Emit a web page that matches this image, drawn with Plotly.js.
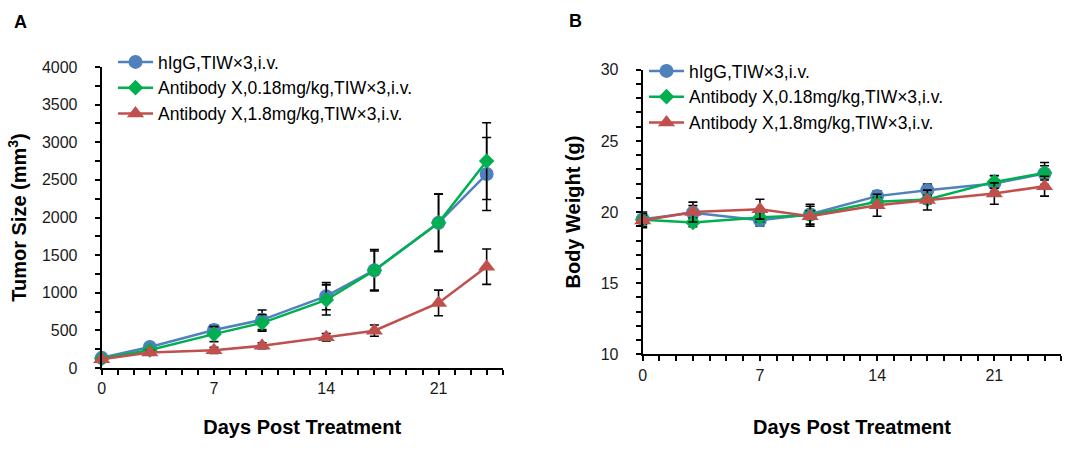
<!DOCTYPE html>
<html>
<head>
<meta charset="utf-8">
<script src="https://cdn.plot.ly/plotly-3.0.1.min.js"></script>
<style>html,body{margin:0;padding:0;background:#fff;}#chart{width:1084px;height:451px;}</style>
</head>
<body>
<div id="chart"></div>
<script>
// ---- data ----
const days = [0, 3, 7, 10, 14, 17, 21, 24];
const seriesNames = ["hIgG,TIW\u00d73,i.v.", "Antibody X,0.18mg/kg,TIW\u00d73,i.v.", "Antibody X,1.8mg/kg,TIW\u00d73,i.v."];

const tumorHIgG = [135, 280, 505, 640, 955, 1300, 1930, 2578];
const tumorHIgGErr = [20, 40, 65, 130, 180, 275, 380, 485];
const tumorLow = [125, 240, 450, 600, 905, 1295, 1930, 2750];
const tumorLowErr = [20, 30, 100, 110, 200, 260, 380, 510];
const tumorHigh = [115, 205, 235, 295, 408, 496, 865, 1346];
const tumorHighErr = [20, 30, 40, 40, 50, 75, 170, 235];

const weightHIgG = [19.5, 19.95, 19.43, 19.85, 21.12, 21.54, 22.0, 22.71];
const weightHIgGErr = [0.5, 0.5, 0.4, 0.7, 0.37, 0.42, 0.55, 0.77];
const weightLow = [19.45, 19.27, 19.62, 19.78, 20.72, 20.88, 22.12, 22.75];
const weightLowErr = [0.3, 0.3, 0.3, 0.3, 0.3, 0.3, 0.45, 0.5];
const weightHigh = [19.4, 20.0, 20.2, 19.71, 20.48, 20.84, 21.3, 21.82];
const weightHighErr = [0.5, 0.7, 0.7, 0.7, 0.77, 0.7, 0.75, 0.7];

const xTickVals = [0, 7, 14, 21];
// ---- styles ----
const colors = ["#4F81BD", "#00B050", "#C0504D"];
const symbols = ["circle", "diamond", "triangle-up"];
const sizes = [14, 12, 15];
const FONT = "Arial, 'Liberation Sans', Helvetica, sans-serif";

function mk(y, err, i, xa, ya, leg) {
  return {
    type: "scatter", mode: "lines+markers",
    x: days, y: y, name: seriesNames[i],
    xaxis: xa, yaxis: ya, legend: leg, legendgroup: leg + i,
    cliponaxis: false,
    line: {color: colors[i], width: 2.5},
    marker: {color: colors[i], symbol: symbols[i], size: sizes[i]},
    error_y: {type: "data", array: err, visible: true, color: "#000", thickness: 1.6, width: 4.5}
  };
}

const traces = [
  mk(tumorHIgG, tumorHIgGErr, 0, "x", "y", "legend"),
  mk(tumorLow, tumorLowErr, 1, "x", "y", "legend"),
  mk(tumorHigh, tumorHighErr, 2, "x", "y", "legend"),
  mk(weightHIgG, weightHIgGErr, 0, "x2", "y2", "legend2"),
  mk(weightLow, weightLowErr, 1, "x2", "y2", "legend2"),
  mk(weightHigh, weightHighErr, 2, "x2", "y2", "legend2")
];

const W = 1084, H = 451;
const px = v => v / W, py = v => (H - v) / H;

function xax(domain, standoff) {
  return {
    domain: domain, range: [0, 25],
    tickmode: "array", tickvals: xTickVals, ticktext: xTickVals.map(String),
    ticks: "outside", ticklen: 5, tickwidth: 2, tickcolor: "#000",
    minor: {dtick: 1, tick0: 0, ticks: "outside", ticklen: 5, tickwidth: 2, tickcolor: "#000"},
    showline: true, linecolor: "#000", linewidth: 2,
    showgrid: false, zeroline: false, fixedrange: true,
    ticklabelstandoff: 0,
    tickfont: {family: FONT, size: 16, color: "#1a1a1a"},
    title: {text: "Days Post Treatment", standoff: standoff, font: {family: FONT, size: 20, weight: "bold", color: "#000"}}
  };
}
function yax(domain, range, dtick, minor, title, standoff) {
  return {
    domain: domain, range: range, dtick: dtick, tick0: range[0],
    ticks: "outside", ticklen: 5, tickwidth: 2, tickcolor: "#000",
    minor: {dtick: minor, ticks: "outside", ticklen: 5, tickwidth: 2, tickcolor: "#000"},
    showline: true, linecolor: "#000", linewidth: 2,
    showgrid: false, zeroline: false, fixedrange: true,
    ticklabelstandoff: 14,
    tickfont: {family: FONT, size: 16, color: "#1a1a1a"},
    title: {text: title, standoff: standoff, font: {family: FONT, size: 20, weight: "bold", color: "#000"}}
  };
}

const xa = xax([px(101.7), px(502.7)], 24); xa.anchor = "y";
const xb = xax([px(642.7), px(1061.3)], 37); xb.anchor = "y2";
const ya = yax([py(368), py(67)], [0, 4000], 500, 250, "Tumor Size (mm<sup>3</sup>)", 10); ya.anchor = "x";
const yb = yax([py(354.3), py(69.8)], [10, 30], 5, 1, "Body Weight (g)", 15); yb.anchor = "x2";

const legendBase = {
  xanchor: "left", yanchor: "top", bgcolor: "rgba(0,0,0,0)", borderwidth: 0,
  font: {family: FONT, size: 17.5, color: "#000"}, traceorder: "grouped", tracegroupgap: 0,
  itemwidth: 35
};

const layout = {
  width: W, height: H,
  margin: {l: 0, r: 0, t: 0, b: 0, autoexpand: false},
  paper_bgcolor: "#fff", plot_bgcolor: "rgba(0,0,0,0)",
  showlegend: true,
  xaxis: xa, yaxis: ya, xaxis2: xb, yaxis2: yb,
  legend: Object.assign({}, legendBase, {x: px(113), y: py(44)}),
  legend2: Object.assign({}, legendBase, {x: px(644), y: py(53)}),
  annotations: [
    {text: "A", xref: "paper", yref: "paper", x: px(20.7), y: py(21.5), xanchor: "center", yanchor: "middle", showarrow: false, font: {family: FONT, size: 18, weight: "bold", color: "#000"}},
    {text: "B", xref: "paper", yref: "paper", x: px(575.7), y: py(20.7), xanchor: "center", yanchor: "middle", showarrow: false, font: {family: FONT, size: 18, weight: "bold", color: "#000"}}
  ]
};

Plotly.newPlot("chart", traces, layout, {staticPlot: true, displayModeBar: false});
</script>
</body>
</html>
